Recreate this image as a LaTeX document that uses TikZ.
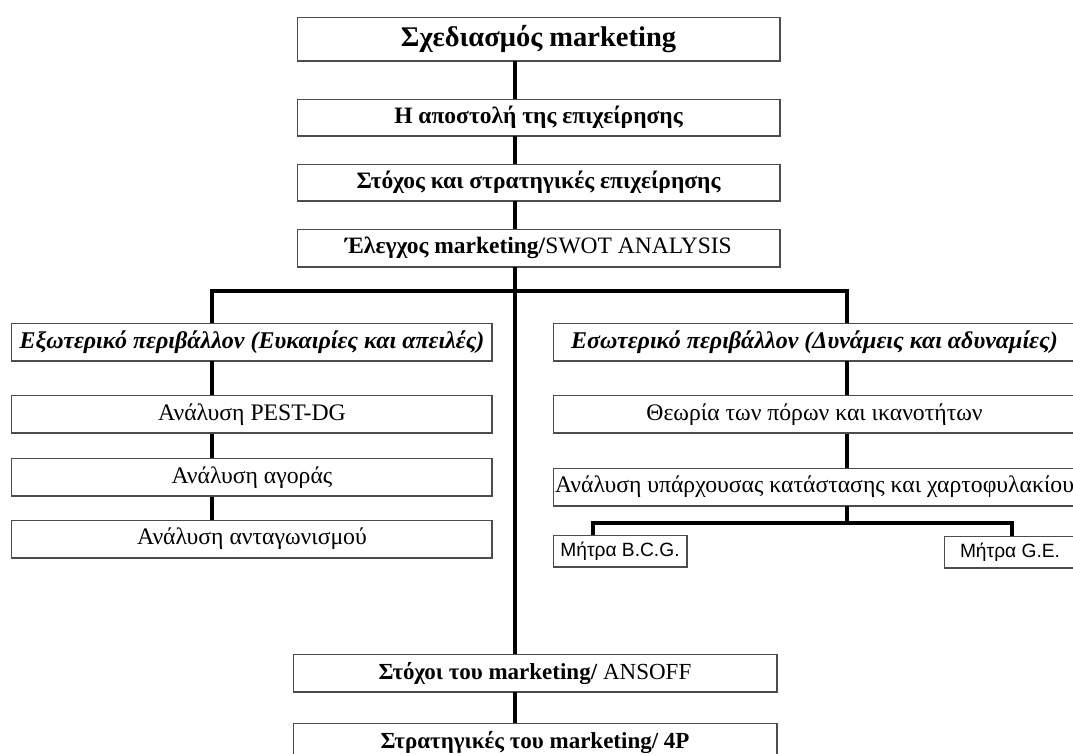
\documentclass[tikz,border=0pt]{standalone}
\usepackage{fontspec}
\setmainfont{Liberation Serif}
\newfontfamily\sansf{Liberation Sans}
\begin{document}
\begin{tikzpicture}[x=1pt,y=-1pt,
  box/.style={draw=black!70, line width=0.9pt, inner sep=0pt, anchor=center, fill=white,
    path picture={\draw[line width=2.6pt] (path picture bounding box.south west) -- (path picture bounding box.south east) -- (path picture bounding box.north east);}},
  topbox/.style={box, minimum width=483pt, minimum height=37pt, font=\fontsize{23.5}{26}\selectfont\bfseries},
  sidebox/.style={box, minimum height=38pt, font=\fontsize{23.7}{26}\selectfont},
  lbox/.style={sidebox, minimum width=481pt},
  rbox/.style={sidebox, minimum width=523pt},
  itbox/.style={font=\fontsize{24}{26}\selectfont\bfseries\itshape},
  mbox/.style={box, minimum width=133pt, minimum height=32pt, font=\sansf\fontsize{19.2}{21}\selectfont},
  link/.style={line width=3.6pt, line join=miter}
]
\path[use as bounding box] (0,0) rectangle (1073,754);
\clip (0,0) rectangle (1073,754);
\fill[white] (0,0) rectangle (1073,754);
% spine coordinates
\coordinate (sp) at (515,0);
\coordinate (lx) at (212,0);
\coordinate (rx) at (847,0);
\coordinate (bus) at (0,291);
\coordinate (bx) at (593,0);
\coordinate (gx) at (1012,0);
\coordinate (sbus) at (0,523);
% top column
\node[topbox, minimum height=44pt, font=\fontsize{28.5}{30}\selectfont\bfseries] (t1) at (538.5,39) {Σχεδιασμός marketing};
\node[topbox] (t2) at (538.5,117.5) {Η αποστολή της επιχείρησης};
\node[topbox] (t3) at (538.5,182.5) {Στόχος και στρατηγικές επιχείρησης};
\node[topbox, minimum height=38pt] (t4) at (538.5,248) {Έλεγχος marketing/\textmd{SWOT ANALYSIS}};
% left branch
\node[lbox, itbox] (e1) at (252,342) {Εξωτερικό περιβάλλον (Ευκαιρίες και απειλές)};
\node[lbox] (e2) at (252,414.5) {Ανάλυση PEST-DG};
\node[lbox] (e3) at (252,477.5) {Ανάλυση αγοράς};
\node[lbox] (e4) at (252,539) {Ανάλυση ανταγωνισμού};
% right branch
\node[rbox, itbox] (i1) at (814.5,342) {Εσωτερικό περιβάλλον (Δυνάμεις και αδυναμίες)};
\node[rbox] (i2) at (814.5,414.5) {Θεωρία των πόρων και ικανοτήτων};
\node[rbox] (i3) at (814.5,487) {Ανάλυση υπάρχουσας κατάστασης και χαρτοφυλακίου};
\node[mbox, minimum width=134pt] (m1) at (620,551) {Μήτρα B.C.G.};
\node[mbox, minimum width=132pt] (m2) at (1010,552) {Μήτρα G.E.};
% bottom
\node[topbox, minimum width=484pt, minimum height=38pt, font=\fontsize{23}{26}\selectfont\bfseries] (b1) at (535,673) {Στόχοι του marketing/ \textmd{ANSOFF}};
\node[topbox, minimum width=484pt, minimum height=38pt, font=\fontsize{23}{26}\selectfont\bfseries] (b2) at (535,742) {Στρατηγικές του marketing/ 4P};
% connectors
\draw[link] (t1.south -| sp) -- (t2.north -| sp);
\draw[link] (t2.south -| sp) -- (t3.north -| sp);
\draw[link] (t3.south -| sp) -- (t4.north -| sp);
\draw[link] (t4.south -| sp) -- (b1.north -| sp);
\draw[link] (b1.south -| sp) -- (b2.north -| sp);
\draw[link] (e1.north -| lx) -- (lx |- bus) -- (rx |- bus) -- (i1.north -| rx);
\draw[link] (e1.south -| lx) -- (e2.north -| lx);
\draw[link] (e2.south -| lx) -- (e3.north -| lx);
\draw[link] (e3.south -| lx) -- (e4.north -| lx);
\draw[link] (i1.south -| rx) -- (i2.north -| rx);
\draw[link] (i2.south -| rx) -- (i3.north -| rx);
\draw[link] (i3.south -| rx) -- (rx |- sbus);
\draw[link] (m1.north -| bx) -- (bx |- sbus) -- (gx |- sbus) -- (m2.north -| gx);
\end{tikzpicture}
\end{document}
